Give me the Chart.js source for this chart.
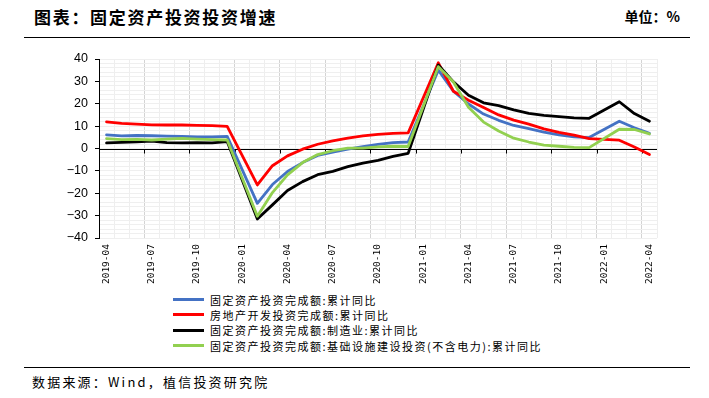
<!DOCTYPE html>
<html><head><meta charset="utf-8">
<script src="https://cdn.jsdelivr.net/npm/chart.js@4/dist/chart.umd.min.js"></script>
<style>
html,body{margin:0;padding:0;background:#fff;}
body{width:709px;height:398px;position:relative;overflow:hidden;font-family:"Noto Sans CJK SC",sans-serif;color:#000;}
#title{position:absolute;left:34px;top:4px;font-size:17px;font-weight:bold;letter-spacing:1.7px;white-space:nowrap;}
#unit{position:absolute;right:29px;top:6px;font-size:14px;font-weight:bold;white-space:nowrap;}
.rule{position:absolute;left:24px;width:666px;height:0;border-top:1.5px solid #000;}
#src{position:absolute;left:32px;top:372px;font-size:13px;letter-spacing:2.2px;white-space:nowrap;}
#legend{position:absolute;left:173px;top:292px;font-size:11px;letter-spacing:1.5px;}
.li{display:flex;align-items:center;height:15.3px;white-space:nowrap;}
.sw{width:31px;height:3px;margin-right:6px;flex:none;}
canvas{position:absolute;left:0;top:0;}
</style></head>
<body>
<div id="title">图表：固定资产投资投资增速</div>
<div id="unit">单位：%</div>
<div class="rule" style="top:37px"></div>
<div class="rule" style="top:367px"></div>
<div id="src">数据来源：Wind，植信投资研究院</div>
<div id="legend"></div>
<canvas id="c" width="709" height="398"></canvas>
<script>
const categories = ["2019-04","2019-05","2019-06","2019-07","2019-08","2019-09","2019-10","2019-11","2019-12",
 "2020-01","2020-02","2020-03","2020-04","2020-05","2020-06","2020-07","2020-08","2020-09","2020-10","2020-11","2020-12",
 "2021-01","2021-02","2021-03","2021-04","2021-05","2021-06","2021-07","2021-08","2021-09","2021-10","2021-11","2021-12",
 "2022-01","2022-02","2022-03","2022-04"];
const tickLabels = ["2019-04","2019-07","2019-10","2020-01","2020-04","2020-07","2020-10","2021-01","2021-04","2021-07","2021-10","2022-01","2022-04"];
const seriesNames = ["固定资产投资完成额:累计同比","房地产开发投资完成额:累计同比","固定资产投资完成额:制造业:累计同比","固定资产投资完成额:基础设施建设投资(不含电力):累计同比"];
const seriesColors = ["#4472C4","#FF0000","#000000","#92D050"];
const fai = [6.1,5.6,5.8,5.7,5.5,5.4,5.2,5.2,5.4, null,-24.5,-16.1,-10.3,-6.3,-3.1,-1.6,-0.3,0.8,1.8,2.6,2.9, null,35.0,25.6,19.9,15.4,12.6,10.3,8.9,7.3,6.1,5.2,4.9, null,12.2,9.3,6.8];
const realEstate = [11.9,11.2,10.9,10.6,10.5,10.5,10.3,10.2,9.9, null,-16.3,-7.7,-3.3,-0.3,1.9,3.4,4.6,5.6,6.3,6.8,7.0, null,38.3,25.6,21.6,18.3,15.0,12.7,10.9,8.8,7.2,6.0,4.4, null,3.7,0.7,-2.7];
const manufacturing = [2.5,2.7,3.0,3.3,2.6,2.5,2.6,2.5,3.1, null,-31.5,-25.2,-18.8,-14.8,-11.7,-10.2,-8.1,-6.5,-5.3,-3.5,-2.2, null,37.3,29.8,23.8,20.4,19.2,17.3,15.7,14.8,14.2,13.7,13.5, null,20.9,15.6,12.2];
const infra = [4.4,4.0,4.1,3.8,4.2,4.5,4.2,4.0,3.8, null,-30.3,-19.7,-11.8,-6.3,-2.7,-1.0,0.2,0.2,0.7,1.0,0.9, null,36.6,29.7,18.4,11.8,7.8,4.6,2.9,1.5,1.0,0.5,0.4, null,8.6,8.5,6.5];
const seriesValues = [fai, realEstate, manufacturing, infra];

// HTML legend
const lg = document.getElementById('legend');
seriesNames.forEach((n,i)=>{
  const d=document.createElement('div'); d.className='li';
  const s=document.createElement('span'); s.className='sw'; s.style.background=seriesColors[i];
  d.appendChild(s); d.appendChild(document.createTextNode(n)); lg.appendChild(d);
});

const zeroAxis = {
  id:'zeroAxis',
  beforeDatasetsDraw(chart){
    const {ctx, scales:{x,y}} = chart;
    const y0 = Math.round(y.getPixelForValue(0))+0.5;
    ctx.save();
    ctx.strokeStyle='#000'; ctx.lineWidth=1;
    ctx.beginPath();
    ctx.moveTo(x.left,y0); ctx.lineTo(x.right,y0);
    categories.forEach((c,i)=>{
      if(i>0 && tickLabels.includes(c)){
        const px = Math.round(x.getPixelForValue(i-0.5))+0.5;
        ctx.moveTo(px,y0); ctx.lineTo(px,y0+4);
      }
    });
    ctx.stroke();
    ctx.restore();
  }
};

new Chart(document.getElementById('c'), {
  type:'line',
  data:{
    labels:categories,
    datasets: seriesValues.map((v,i)=>({
      label:seriesNames[i], data:v, borderColor:seriesColors[i], backgroundColor:seriesColors[i],
      borderWidth:2.8, pointRadius:0, tension:0, spanGaps:true, fill:false,
      borderJoinStyle:'round', borderCapStyle:'round', order:3-i
    }))
  },
  options:{
    responsive:false, animation:false, devicePixelRatio:1,
    layout:{padding:{left:59,top:59,right:52,bottom:110}},
    plugins:{legend:{display:false}, tooltip:{enabled:false}},
    scales:{
      x:{
        offset:true,
        grid:{offset:true, drawTicks:false,
          color:(ctx)=> (ctx.index%3===0 && ctx.index<categories.length) ? '#d4d4d4' : '#eeeeee',
          lineWidth:1},
        border:{display:false},
        ticks:{autoSkip:false, minRotation:90, maxRotation:90, padding:6, color:'#000',
          font:{family:'"DejaVu Sans Mono", monospace', size:9.5},
          callback:(v,i)=> tickLabels.includes(categories[i]) ? categories[i] : ''},
        afterFit:(s)=>{s.height=50;}
      },
      y:{
        min:-40, max:40,
        grid:{color:'#efefef', drawTicks:true, tickLength:4,
          tickColor:(ctx)=> (ctx.tick && ctx.tick.value%10===0) ? '#000' : 'rgba(0,0,0,0)'},
        border:{display:true, color:'#000', width:1},
        ticks:{stepSize:2, autoSkip:false, padding:7, color:'#000',
          font:{family:'"Liberation Sans", Arial, sans-serif', size:12.5},
          callback:(v)=> v%10===0 ? String(v).replace('-','\u2212') : ''},
        afterFit:(s)=>{s.width=40;}
      }
    }
  },
  plugins:[zeroAxis]
});
</script>
</body></html>
